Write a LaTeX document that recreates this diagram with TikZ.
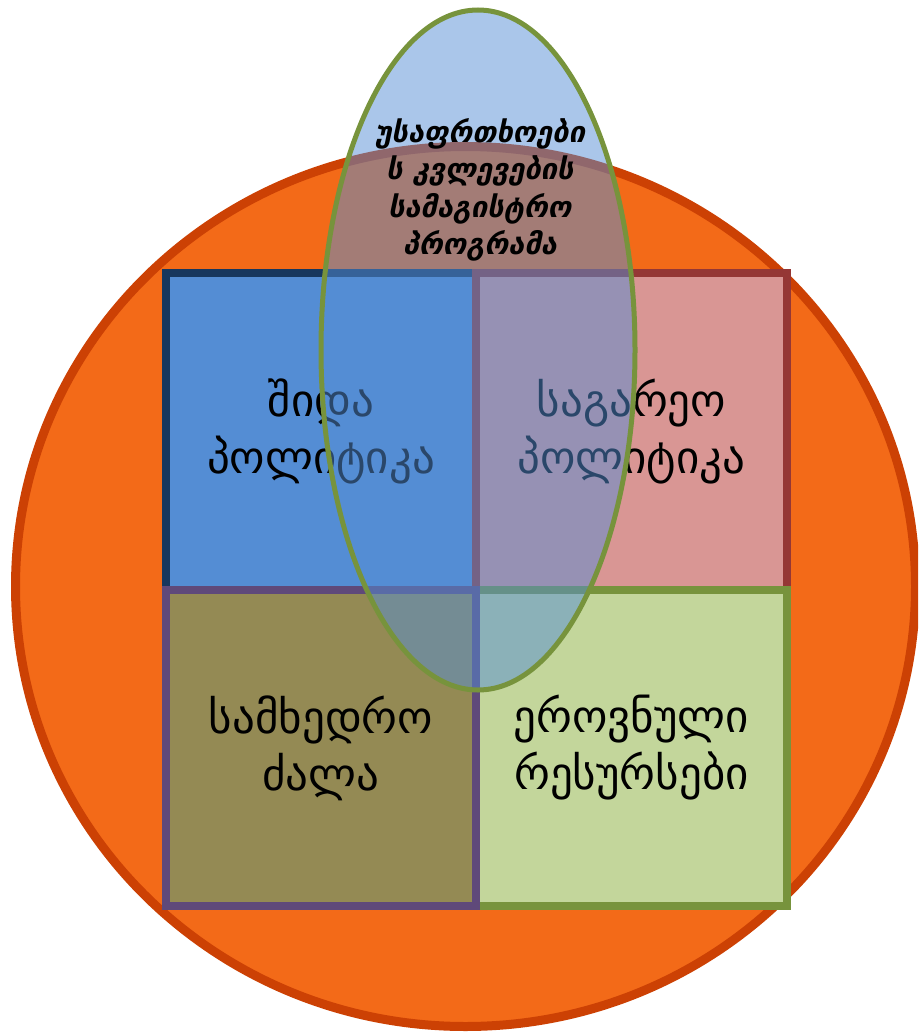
\documentclass[tikz,border=0pt]{standalone}
\usepackage{fontspec}
\setmainfont{DejaVu Sans}
\usetikzlibrary{shapes.geometric}
\definecolor{orfill}{HTML}{F36A18}
\definecolor{orline}{HTML}{CC4104}
\definecolor{tlfill}{HTML}{548DD4}
\definecolor{tlline}{HTML}{17375E}
\definecolor{trfill}{HTML}{D99694}
\definecolor{trline}{HTML}{953735}
\definecolor{blfill}{HTML}{948A54}
\definecolor{blline}{HTML}{5F497A}
\definecolor{brfill}{HTML}{C3D69B}
\definecolor{brline}{HTML}{77933C}
\definecolor{elfill}{HTML}{558ED5}
\tikzset{
  quad/.style={rectangle, inner sep=0pt, line width=8pt, align=center,
    font=\fontsize{45}{57}\selectfont, text=black},
  lens/.style={ellipse, inner sep=0pt, line width=5pt, draw=brline,
    fill=elfill, fill opacity=0.5},
  lenstext/.style={align=center, font=\fontsize{29}{37.5}\selectfont\bfseries\itshape}
}
\begin{document}
\begin{tikzpicture}[x=1pt,y=-1pt]
\useasboundingbox (0,0) rectangle (918,1033);
\clip (0,0) rectangle (918,1033);
\node[ellipse, inner sep=0pt, minimum width=900pt, minimum height=880pt,
  line width=9pt, draw=orline, fill=orfill] (circ) at (465.5,586.5) {};
\node[quad, draw=tlline, fill=tlfill, minimum width=310pt, minimum height=317pt]
  (tl) at (321,431.5) {შიდა\\პოლიტიკა};
\node[quad, draw=trline, fill=trfill, minimum width=311pt, minimum height=317pt]
  (tr) at (631.5,431.5) {საგარეო\\პოლიტიკა};
\node[quad, draw=brline, fill=brfill, minimum width=311pt, minimum height=316pt]
  (br) at (631.5,748) {ეროვნული\\რესურსები};
\node[quad, draw=blline, fill=blfill, minimum width=310pt, minimum height=316pt]
  (bl) at (321,748) {სამხედრო\\ძალა};
\node[lens, minimum width=314pt, minimum height=680pt] (ell) at (478,350) {};
\node[lenstext] (elltext) at (480,190) {უსაფრთხოები\\ს კვლევების\\სამაგისტრო\\პროგრამა};
\end{tikzpicture}
\end{document}
